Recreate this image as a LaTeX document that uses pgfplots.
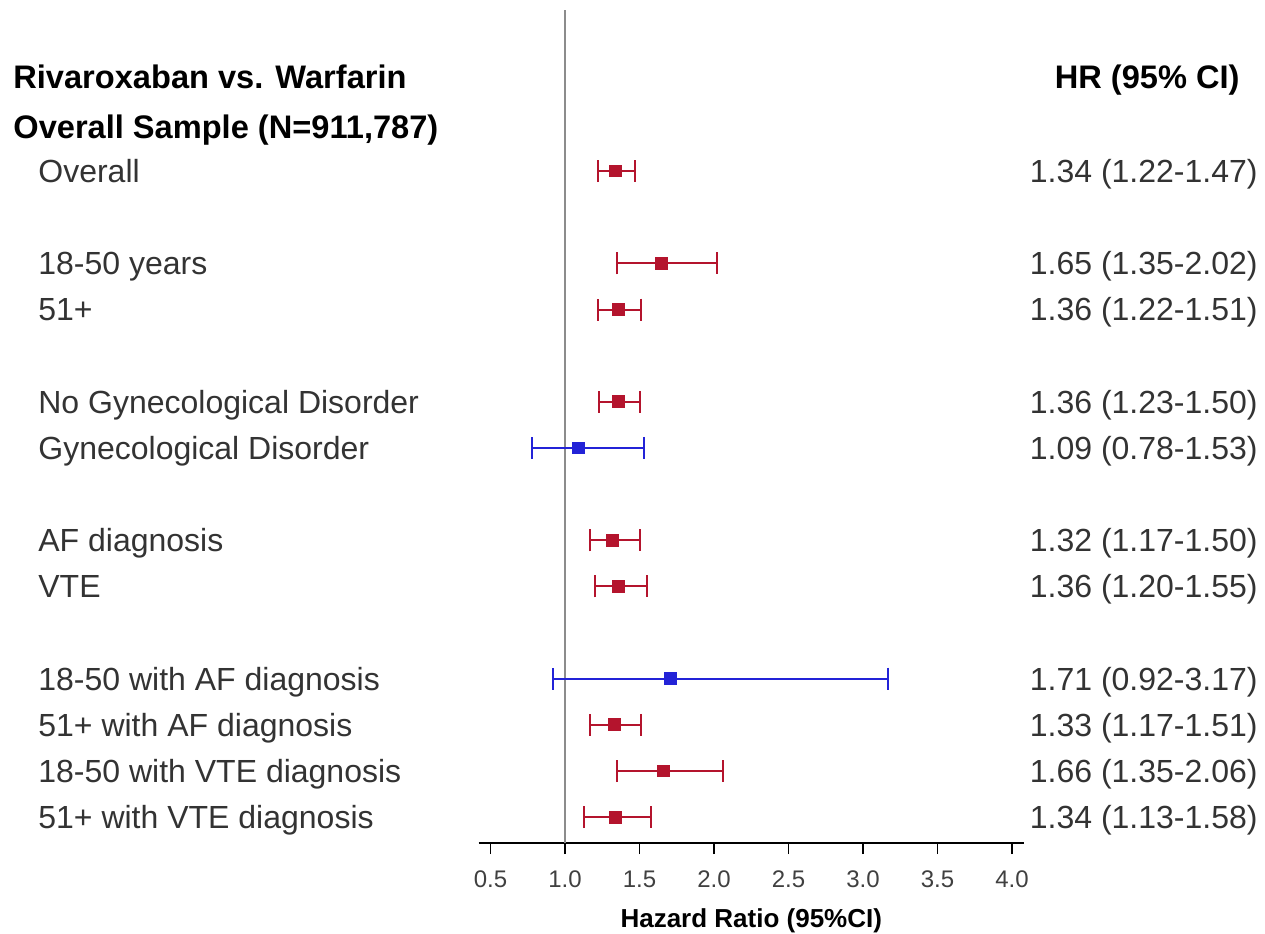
\documentclass[border=0pt]{standalone}
\usepackage{pgfplots}
\usepackage{pgfplotstable}
\pgfplotsset{compat=1.18}
\usepackage{fontspec}
\setmainfont{Liberation Sans}
\definecolor{hrred}{RGB}{180,20,45}
\definecolor{hrblue}{RGB}{35,35,215}
\definecolor{refgray}{RGB}{140,140,140}

% row position (negative slot), HR, lower CI, upper CI
\pgfplotstableread{
y hr lo hi
0 1.34 1.22 1.47
-2 1.65 1.35 2.02
-3 1.36 1.22 1.51
-5 1.36 1.23 1.50
-8 1.32 1.17 1.50
-9 1.36 1.20 1.55
-12 1.33 1.17 1.51
-13 1.66 1.35 2.06
-14 1.34 1.13 1.58
}\redtab
\pgfplotstableread{
y hr lo hi
-6 1.09 0.78 1.53
-11 1.71 0.92 3.17
}\bluetab

\newcommand{\rowfont}{\fontsize{16}{19}\selectfont}
\newcommand{\headfont}{\fontsize{16.3}{19}\selectfont\bfseries}
\tikzset{
  lab/.style={anchor=base west, inner sep=0pt, xshift=-220.3pt, yshift=-5.7pt, font=\rowfont, text=black!80},
  hrt/.style={anchor=base east, inner sep=0pt, xshift=117pt, yshift=-5.7pt, font=\rowfont, text=black!80},
}

\begin{document}
\begin{tikzpicture}
\useasboundingbox (0,0) rectangle (632.5pt,-466.5pt);
\begin{axis}[
  at={(239.3pt,-421.5pt)}, anchor=south west,
  scale only axis, width=272.7pt, height=416.5pt,
  xmin=0.42, xmax=4.08, ymin=-14.56, ymax=3.49,
  axis x line=bottom, axis y line=none,
  x axis line style={-, line width=0.75pt},
  xtick={0.5,1.0,1.5,2.0,2.5,3.0,3.5,4.0},
  xticklabel style={/pgf/number format/fixed, /pgf/number format/fixed zerofill, /pgf/number format/precision=1, /pgf/number format/assume math mode=true, font=\fontsize{12}{14}\selectfont, text=black!75, yshift=-5pt},
  xtick align=outside, major tick length=5.5pt,
  tick style={black, line width=0.75pt},
  xlabel={Hazard Ratio (95\%CI)},
  xlabel style={font=\fontsize{13}{15}\selectfont\bfseries, at={(axis description cs:0.5,0)}, anchor=center, yshift=-39pt},
  clip=false,
]
\addplot[refgray, line width=1pt] coordinates {(1,-14.56) (1,3.49)};

\addplot[only marks, mark=square*, mark size=2.7pt, color=hrred, line width=1pt,
  error bars/.cd, x dir=both, x explicit, error mark=|,
  error bar style={line width=1pt, hrred, solid},
  error mark options={line width=1pt, mark size=5.5pt, hrred}]
  table[x=hr, y=y, x error plus expr=\thisrow{hi}-\thisrow{hr}, x error minus expr=\thisrow{hr}-\thisrow{lo}] {\redtab};
\addplot[only marks, mark=square*, mark size=2.7pt, color=hrblue, line width=1pt,
  error bars/.cd, x dir=both, x explicit, error mark=|,
  error bar style={line width=1pt, hrblue, solid},
  error mark options={line width=1pt, mark size=5.5pt, hrblue}]
  table[x=hr, y=y, x error plus expr=\thisrow{hi}-\thisrow{hr}, x error minus expr=\thisrow{hr}-\thisrow{lo}] {\bluetab};

% headers
\node[anchor=base west, inner sep=0pt, xshift=-232.8pt, yshift=-5.8pt, font=\headfont] at (axis cs:0.42,2.037) {Rivaroxaban vs. Warfarin};
\node[anchor=base west, inner sep=0pt, xshift=-232.8pt, yshift=-5.8pt, font=\headfont] at (axis cs:0.42,0.953) {Overall Sample (N=911,787)};
\node[anchor=base east, inner sep=0pt, xshift=108pt, yshift=-5.8pt, font=\headfont] at (axis cs:4.08,2.037) {HR (95\% CI)};

% row labels
\node[lab] at (axis cs:0.42,0) {Overall};
\node[lab] at (axis cs:0.42,-2) {18-50 years};
\node[lab] at (axis cs:0.42,-3) {51+};
\node[lab] at (axis cs:0.42,-5) {No Gynecological Disorder};
\node[lab] at (axis cs:0.42,-6) {Gynecological Disorder};
\node[lab] at (axis cs:0.42,-8) {AF diagnosis};
\node[lab] at (axis cs:0.42,-9) {VTE};
\node[lab] at (axis cs:0.42,-11) {18-50 with AF diagnosis};
\node[lab] at (axis cs:0.42,-12) {51+ with AF diagnosis};
\node[lab] at (axis cs:0.42,-13) {18-50 with VTE diagnosis};
\node[lab] at (axis cs:0.42,-14) {51+ with VTE diagnosis};
% HR text
\node[hrt] at (axis cs:4.08,0) {1.34 (1.22-1.47)};
\node[hrt] at (axis cs:4.08,-2) {1.65 (1.35-2.02)};
\node[hrt] at (axis cs:4.08,-3) {1.36 (1.22-1.51)};
\node[hrt] at (axis cs:4.08,-5) {1.36 (1.23-1.50)};
\node[hrt] at (axis cs:4.08,-6) {1.09 (0.78-1.53)};
\node[hrt] at (axis cs:4.08,-8) {1.32 (1.17-1.50)};
\node[hrt] at (axis cs:4.08,-9) {1.36 (1.20-1.55)};
\node[hrt] at (axis cs:4.08,-11) {1.71 (0.92-3.17)};
\node[hrt] at (axis cs:4.08,-12) {1.33 (1.17-1.51)};
\node[hrt] at (axis cs:4.08,-13) {1.66 (1.35-2.06)};
\node[hrt] at (axis cs:4.08,-14) {1.34 (1.13-1.58)};
\end{axis}
\end{tikzpicture}
\end{document}
